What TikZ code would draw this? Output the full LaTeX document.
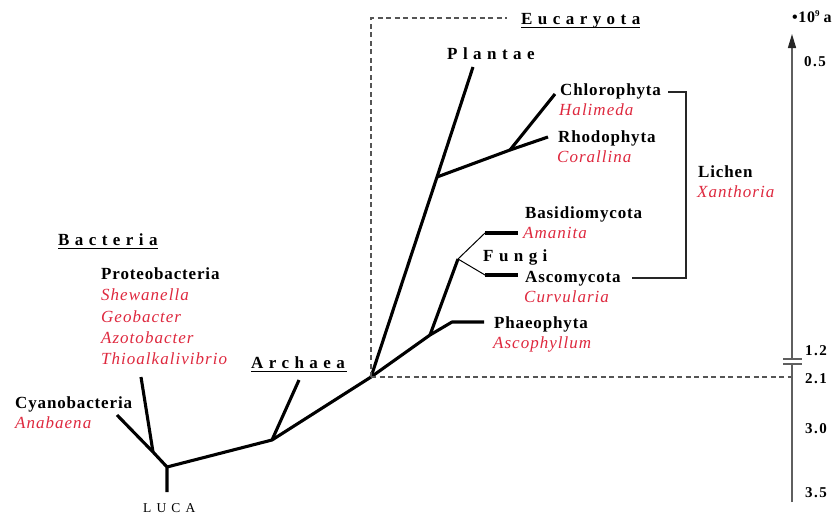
\documentclass[tikz,border=0pt]{standalone}
\usepackage{fontspec}
\setmainfont{Liberation Serif}
\usetikzlibrary{arrows.meta}
\definecolor{genusred}{RGB}{222,40,62}
\definecolor{axisgray}{RGB}{95,95,95}
\definecolor{dashgray}{RGB}{85,85,85}
\tikzset{
  branch/.style={line width=3.1pt, line join=round},
  thinbranch/.style={line width=1pt},
  bracketline/.style={line width=1.1pt, draw=black!85},
  dashline/.style={line width=1.2pt, draw=dashgray, dash pattern=on 5pt off 3.5pt},
  axisline/.style={line width=1.4pt, draw=axisgray},
  phylum/.style={anchor=base west, inner sep=0pt, font=\fontsize{17}{20}\selectfont\bfseries\addfontfeature{LetterSpace=5}},
  genus/.style={anchor=base west, inner sep=0pt, text=genusred, font=\fontsize{17}{20}\selectfont\itshape\addfontfeature{LetterSpace=6}},
  grouptitle/.style={anchor=base west, inner sep=0pt, font=\fontsize{17}{20}\selectfont\bfseries\addfontfeature{LetterSpace=32}},
  uline/.style={line width=1.7pt},
  ticklabel/.style={anchor=base west, inner sep=0pt, font=\fontsize{15}{18}\selectfont\bfseries\addfontfeature{LetterSpace=10}},
}
\begin{document}
\begin{tikzpicture}[x=1pt,y=-1pt]
\useasboundingbox (0,0) rectangle (838,514);

% ---- tree coordinates
\coordinate (luca) at (167,467);
\coordinate (lucaend) at (167,492);
\coordinate (bsplit) at (153,452);
\coordinate (cyanoend) at (117,415);
\coordinate (proteoend) at (141,377);
\coordinate (arch) at (272,440);
\coordinate (archend) at (299,380);
\coordinate (root) at (371,377);
\coordinate (plj) at (437,177);
\coordinate (plend) at (473,67);
\coordinate (crj) at (510,150);
\coordinate (chlend) at (555,94);
\coordinate (rhoend) at (548,137);
\coordinate (phj) at (430,335);
\coordinate (phbend) at (452,322);
\coordinate (phend) at (484,322);
\coordinate (fgj) at (458,259);
\coordinate (basbend) at (485,233);
\coordinate (basend) at (518,233);
\coordinate (ascbend) at (485,275);
\coordinate (ascend) at (518,275);

% ---- branches
\draw[branch] (lucaend) -- (luca) -- (bsplit) -- (cyanoend);
\draw[branch] (bsplit) -- (proteoend);
\draw[branch] (luca) -- (arch) -- (root);
\draw[branch] (arch) -- (archend);
\draw[branch] (root) -- (plj) -- (plend);
\draw[branch] (plj) -- (crj) -- (chlend);
\draw[branch] (crj) -- (rhoend);
\draw[branch] (root) -- (phj) -- (phbend) -- (phend);
\draw[branch] (phj) -- (fgj);
\draw[thinbranch] (fgj) -- (basbend);
\draw[thinbranch] (fgj) -- (ascbend);
\draw[branch] (basbend) -- (basend);
\draw[branch] (ascbend) -- (ascend);

% ---- dashed frame
\coordinate (dcorner) at (371,18);
\coordinate (dend) at (507,18);
\coordinate (axroot) at (792,377);
\draw[dashline] (root) -- (dcorner) -- (dend);
\draw[dashline] (root) -- (axroot);

% ---- labels
\node[phylum] (lucalbl) at (143,512) {\fontsize{13.5}{16}\selectfont\mdseries\addfontfeature{LetterSpace=38}LUCA};

\node[grouptitle] (bact) at (58,245) {Bacteria};
\draw[uline] ([yshift=-3.5pt]bact.base west) -- ++(100,0);
\node[phylum] (proteo) at (101,279) {Proteobacteria};
\node[genus] (shew) at (101,300) {Shewanella};
\node[genus] (geo) at (101,322) {Geobacter};
\node[genus] (azo) at (101,343) {Azotobacter};
\node[genus] (thio) at (101,364) {Thioalkalivibrio};
\node[phylum] (cyano) at (15,408) {Cyanobacteria};
\node[genus] (anab) at (15,428) {Anabaena};

\node[grouptitle] (archlbl) at (251,368) {Archaea};
\draw[uline] ([yshift=-3.5pt]archlbl.base west) -- ++(96,0);

\node[grouptitle] (euca) at (521,24) {Eucaryota};
\draw[uline] ([yshift=-3.5pt]euca.base west) -- ++(119,0);

\node[grouptitle] (plantae) at (447,59) {Plantae};
\node[phylum] (chloro) at (560,95) {Chlorophyta};
\node[genus] (hali) at (559,115) {Halimeda};
\node[phylum] (rhodo) at (558,142) {Rhodophyta};
\node[genus] (cora) at (557,162) {Corallina};
\node[phylum] (lichen) at (698,177) {Lichen};
\node[genus] (xanth) at (697,197) {Xanthoria};
\node[phylum] (basid) at (525,218) {Basidiomycota};
\node[genus] (aman) at (523,238) {Amanita};
\node[grouptitle] (fungi) at (483,261) {Fungi};
\node[phylum] (asco) at (525,282) {Ascomycota};
\node[genus] (curv) at (524,302) {Curvularia};
\node[phylum] (phaeo) at (494,328) {Phaeophyta};
\node[genus] (ascoph) at (493,348) {Ascophyllum};

% ---- lichen bracket
\coordinate (brtop) at (686,92);
\coordinate (brbot) at (686,278);
\coordinate (brtopstart) at (668,92);
\coordinate (brbotstart) at (632,278);
\draw[bracketline] (brtopstart) -- (brtop) -- (brbot) -- (brbotstart);

% ---- time axis
\coordinate (axbottom) at (792,502);
\coordinate (axbreaklo) at (792,364);
\coordinate (axbreakhi) at (792,359);
\coordinate (axtop) at (792,34);
\draw[axisline] (axbottom) -- (axbreaklo);
\draw[axisline, -{Triangle[length=14pt,width=8pt,color=black!85]}] (axbreakhi) -- (axtop);
\coordinate (bk1a) at (783,359); \coordinate (bk1b) at (802,359);
\coordinate (bk2a) at (783,364); \coordinate (bk2b) at (802,364);
\draw[axisline] (bk1a) -- (bk1b);
\draw[axisline] (bk2a) -- (bk2b);

\node[ticklabel] (unit) at (792,23) {\fontsize{16}{18}\selectfont\addfontfeature{LetterSpace=4}•10\raisebox{6pt}{\fontsize{9}{10}\selectfont 9}\hspace{4pt}a};
\node[ticklabel] (t05) at (804,66) {0.5};
\node[ticklabel] (t12) at (805,355) {1.2};
\node[ticklabel] (t21) at (805,383) {2.1};
\node[ticklabel] (t30) at (805,433) {3.0};
\node[ticklabel] (t35) at (805,497) {3.5};
\end{tikzpicture}
\end{document}
